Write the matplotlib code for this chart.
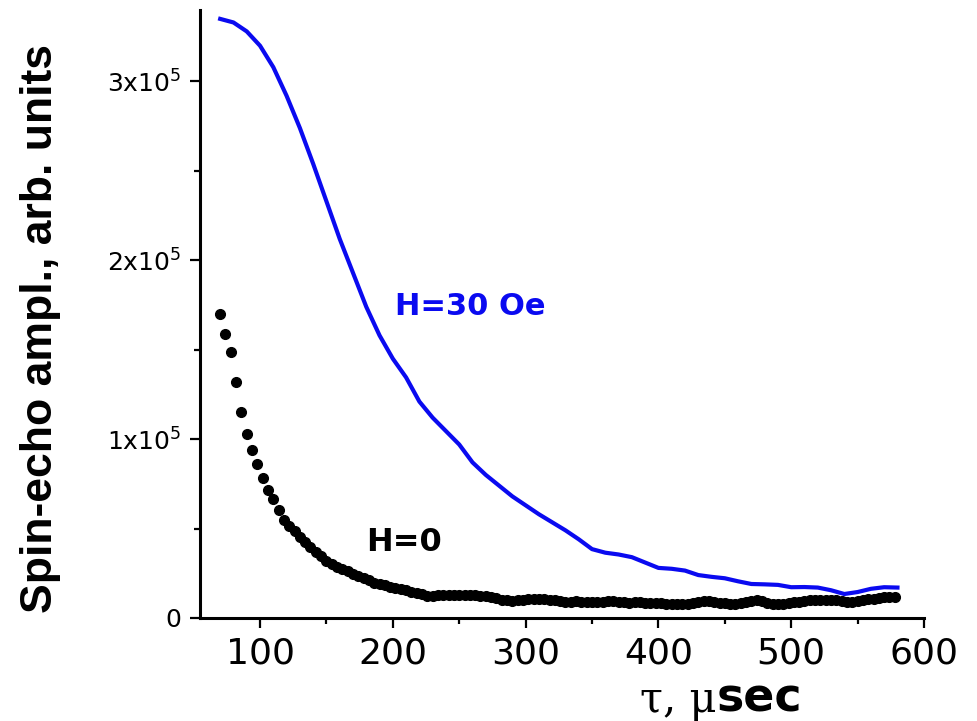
import matplotlib
matplotlib.use("Agg")
import matplotlib.pyplot as plt
from matplotlib.ticker import MultipleLocator, FixedLocator

# H = 0 : spin-echo amplitude (x1e5) sampled every 4 usec
tau_h0 = [70, 74, 78, 82, 86, 90, 94, 98, 102, 106, 110, 114, 118, 122, 126, 130,
          134, 138, 142, 146, 150, 154, 158, 162, 166, 170, 174, 178, 182, 186, 190, 194,
          198, 202, 206, 210, 214, 218, 222, 226, 230, 234, 238, 242, 246, 250, 254, 258,
          262, 266, 270, 274, 278, 282, 286, 290, 294, 298, 302, 306, 310, 314, 318, 322,
          326, 330, 334, 338, 342, 346, 350, 354, 358, 362, 366, 370, 374, 378, 382, 386,
          390, 394, 398, 402, 406, 410, 414, 418, 422, 426, 430, 434, 438, 442, 446, 450,
          454, 458, 462, 466, 470, 474, 478, 482, 486, 490, 494, 498, 502, 506, 510, 514,
          518, 522, 526, 530, 534, 538, 542, 546, 550, 554, 558, 562, 566, 570, 574, 578]
amp_h0 = [1.70, 1.59, 1.49, 1.32, 1.15, 1.03, 0.94, 0.86, 0.78, 0.715, 0.665, 0.605, 0.55, 0.515, 0.485, 0.455,
          0.425, 0.398, 0.37, 0.345, 0.318, 0.302, 0.286, 0.272, 0.26, 0.248, 0.235, 0.222, 0.21, 0.198, 0.19, 0.183,
          0.174, 0.168, 0.162, 0.154, 0.147, 0.14, 0.132, 0.124, 0.121, 0.126, 0.13, 0.131, 0.128, 0.129, 0.13, 0.127,
          0.128, 0.125, 0.122, 0.118, 0.11, 0.102, 0.098, 0.097, 0.099, 0.102, 0.106, 0.108, 0.106, 0.104, 0.103, 0.098,
          0.094, 0.091, 0.092, 0.093, 0.09, 0.089, 0.092, 0.091, 0.09, 0.093, 0.095, 0.092, 0.088, 0.086, 0.09, 0.088,
          0.085, 0.083, 0.082, 0.084, 0.08, 0.079, 0.078, 0.08, 0.079, 0.083, 0.09, 0.096, 0.094, 0.09, 0.086, 0.083,
          0.08, 0.078, 0.082, 0.09, 0.097, 0.1, 0.095, 0.086, 0.08, 0.078, 0.08, 0.084, 0.087, 0.092, 0.097, 0.1,
          0.101, 0.1, 0.1, 0.101, 0.1, 0.096, 0.09, 0.087, 0.093, 0.1, 0.105, 0.108, 0.112, 0.115, 0.116, 0.115]

# H = 30 Oe
tau_h30 = [70, 80, 90, 100, 110, 120, 130, 140, 150, 160, 170, 180, 190, 200, 210, 220, 230, 240,
           250, 260, 270, 280, 290, 300, 310, 320, 330, 340, 350, 360, 370, 380, 390, 400, 410, 420,
           430, 440, 450, 460, 470, 480, 490, 500, 510, 520, 530, 540, 550, 560, 570, 580]
amp_h30 = [3.35, 3.33, 3.28, 3.20, 3.08, 2.92, 2.74, 2.54, 2.33, 2.12, 1.93, 1.74, 1.58, 1.45, 1.345, 1.21, 1.12, 1.045,
           0.97, 0.87, 0.80, 0.74, 0.68, 0.63, 0.58, 0.535, 0.49, 0.44, 0.385, 0.365, 0.355, 0.34, 0.31, 0.28, 0.275, 0.265,
           0.24, 0.23, 0.222, 0.205, 0.19, 0.188, 0.185, 0.172, 0.173, 0.17, 0.155, 0.134, 0.145, 0.163, 0.172, 0.170]

y_ticks = [0, 1e5, 2e5, 3e5]
y_ticklabels = ["0", r"$\mathregular{1x10^{5}}$", r"$\mathregular{2x10^{5}}$", r"$\mathregular{3x10^{5}}$"]
x_ticks = [100, 200, 300, 400, 500, 600]

blue = "#0a0af0"

fig = plt.figure(figsize=(9.78, 7.21), dpi=100)
ax = fig.add_axes([0.2045, 0.1429, 0.7403, 0.8433])

ax.plot(tau_h0, [v * 1e5 for v in amp_h0], "o", color="black", ms=7, mec="black", zorder=2)
ax.plot(tau_h30, [v * 1e5 for v in amp_h30], "-", color=blue, lw=3, zorder=3)

ax.set_xlim(54.8, 600)
ax.set_ylim(0, 3.4e5)

ax.spines["top"].set_visible(False)
ax.spines["right"].set_visible(False)
for s in ["left", "bottom"]:
    ax.spines[s].set_linewidth(2.2)

ax.xaxis.set_major_locator(FixedLocator(x_ticks))
ax.xaxis.set_minor_locator(MultipleLocator(50))
ax.set_yticks(y_ticks)
ax.set_yticklabels(y_ticklabels)
ax.yaxis.set_minor_locator(MultipleLocator(0.5e5))

ax.tick_params(which="major", direction="out", length=7.5, width=1.6)
ax.tick_params(which="minor", direction="out", length=4.5, width=1.6)
ax.tick_params(axis="x", which="major", labelsize=26, pad=6)
ax.tick_params(axis="y", which="major", labelsize=18, pad=6)
for lab in ax.get_xticklabels() + ax.get_yticklabels():
    lab.set_family("DejaVu Sans")

ax.text(258, 1.74e5, "H=30 Oe", color=blue, fontsize=22, fontweight="bold",
        family="DejaVu Sans", ha="center", va="center")
ax.text(208.5, 0.42e5, "H=0", color="black", fontsize=23, fontweight="bold",
        family="DejaVu Sans", ha="center", va="center")

# axis titles
fig.text(0.041, 0.545, "Spin-echo ampl., arb. units", rotation=90, ha="center", va="center",
         fontsize=32, fontweight="bold", family="Liberation Sans")
fig.text(0.733, 0.0125, "\u03c4, \u03bc", ha="right", va="baseline", fontsize=30,
         family="DejaVu Serif")
fig.text(0.733, 0.0125, "sec", ha="left", va="baseline", fontsize=33, fontweight="bold",
         family="DejaVu Sans")

fig.savefig("out.png", dpi=100)
